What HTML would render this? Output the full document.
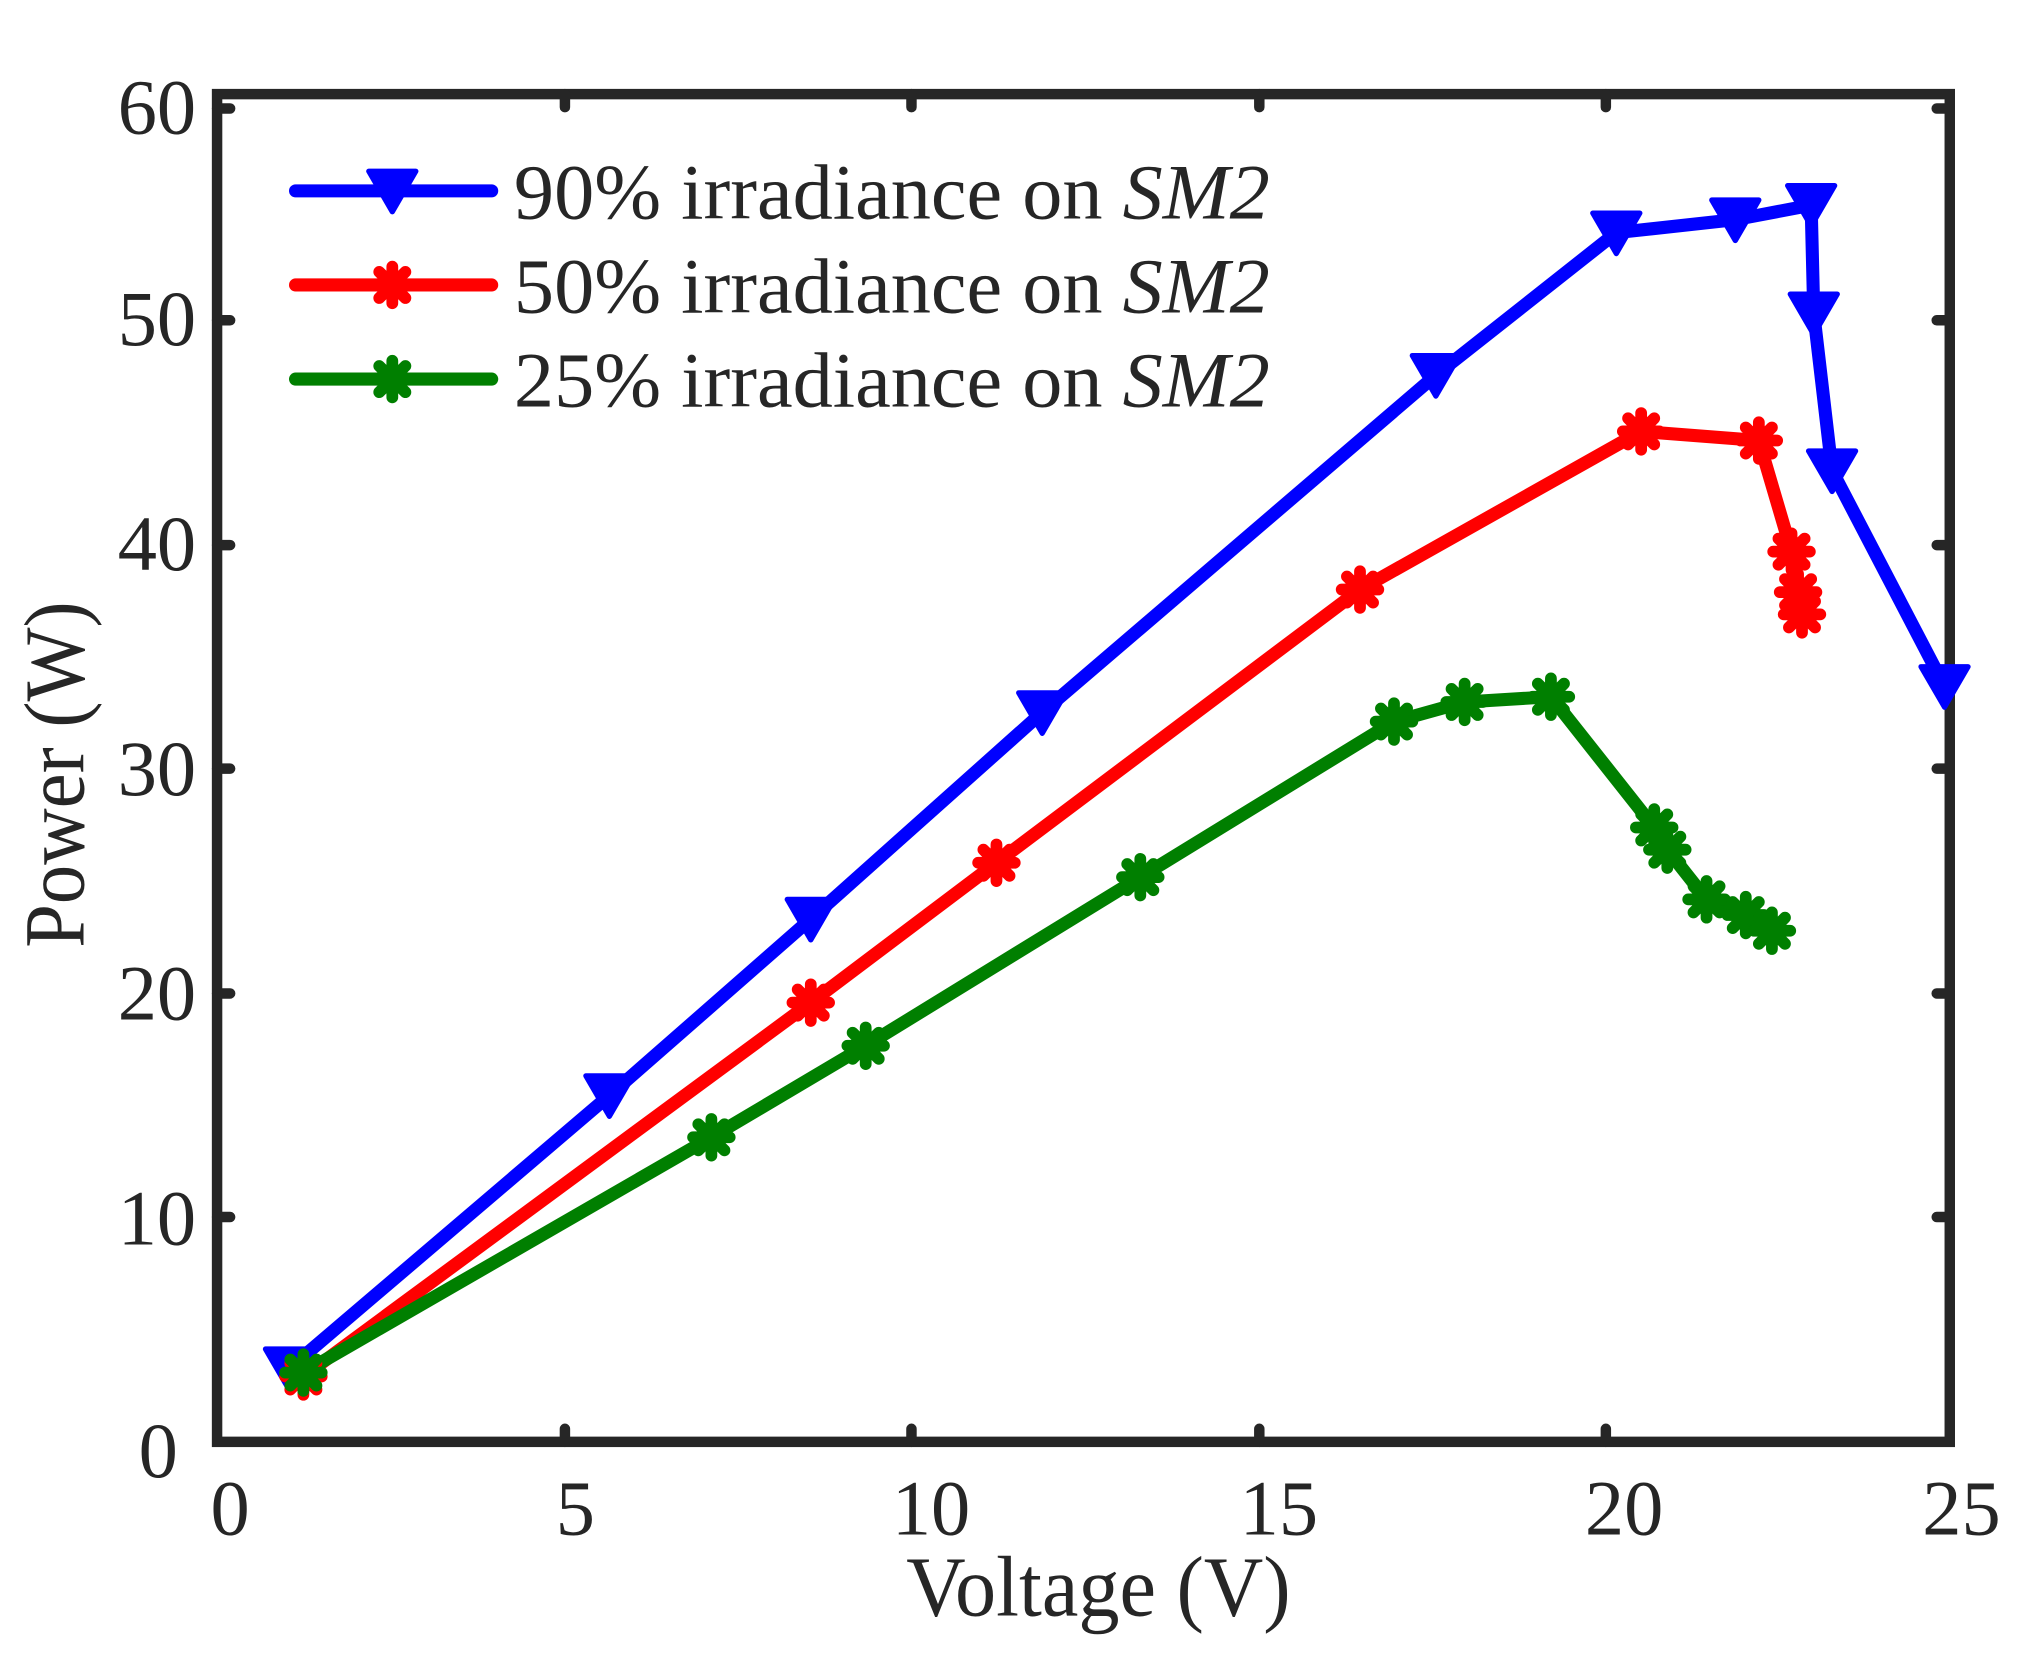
<!DOCTYPE html>
<html><head><meta charset="utf-8"><style>html,body{margin:0;padding:0;background:#fff}svg{display:block}</style></head><body>
<svg width="2040" height="1668" viewBox="0 0 1560 1276" preserveAspectRatio="none" xmlns="http://www.w3.org/2000/svg">
<defs>
<path id="tri" d="M-18,-15 L18,-15 L0,16 Z" stroke-linejoin="round"/>
<g id="st"><path d="M-14,0H14M0,-14V14M-10,-10L10,10M-10,10L10,-10" stroke-width="9" stroke-linecap="round"/></g>
</defs>
<rect x="166" y="72" width="1325" height="1031" fill="none" stroke="#262626" stroke-width="8"/>
<g stroke="#262626" stroke-width="8" stroke-linecap="round">
<path d="M432,1103v-10M697,1103v-10M963,1103v-10M1228,1103v-10M432,72v10M697,72v10M963,72v10M1228,72v10"/>
<path d="M166,931h10M166,760h10M166,588h10M166,417h10M166,245h10M166,83h10M1491,931h-10M1491,760h-10M1491,588h-10M1491,417h-10M1491,245h-10M1491,83h-10"/>
</g>
<g font-family="Liberation Serif, serif" font-size="60" fill="#262626">
<g text-anchor="middle"><text x="176" y="1174">0</text><text x="440" y="1174">5</text><text x="712" y="1174">10</text><text x="978" y="1174">15</text><text x="1242" y="1174">20</text><text x="1500" y="1174">25</text></g>
<g text-anchor="end"><text x="136" y="1130">0</text><text x="150" y="952">10</text><text x="150" y="780">20</text><text x="150" y="608">30</text><text x="150" y="436">40</text><text x="150" y="264">50</text><text x="150" y="102">60</text></g>
<text x="693" y="1236" font-size="66" textLength="294" lengthAdjust="spacingAndGlyphs">Voltage (V)</text>
<text transform="translate(64,725) rotate(-90)" font-size="66" textLength="265" lengthAdjust="spacingAndGlyphs">Power (W)</text>
<text x="393" y="167" textLength="578" lengthAdjust="spacingAndGlyphs">90% irradiance on <tspan font-style="italic">SM2</tspan></text>
<text x="393" y="239" textLength="578" lengthAdjust="spacingAndGlyphs">50% irradiance on <tspan font-style="italic">SM2</tspan></text>
<text x="393" y="311" textLength="578" lengthAdjust="spacingAndGlyphs">25% irradiance on <tspan font-style="italic">SM2</tspan></text>
</g>
<g fill="none" stroke-width="10" stroke-linejoin="round" stroke-linecap="round">
<polyline stroke="#0000ff" points="221,1047 466,838 620,703 797,545 1098,287 1236,178 1327,168 1385,157 1387,240 1401,360 1487,525"/>
<polyline stroke="#ff0000" points="232,1053 620,767 762,660 1040,451 1255,330 1345,337 1370,422 1375,453 1378,470"/>
<polyline stroke="#007f00" points="232,1050 544,870 662,800 872,671 1066,552 1120,537 1186,533 1265,633 1275,650 1305,688 1335,700 1355,712"/>
<line x1="226" y1="146" x2="376" y2="146" stroke="#0000ff"/>
<line x1="226" y1="218" x2="376" y2="218" stroke="#ff0000"/>
<line x1="226" y1="290" x2="376" y2="290" stroke="#007f00"/>
</g>
<g fill="#0000ff" stroke="#0000ff" stroke-width="4">
<use href="#tri" x="300" y="146"/><use href="#tri" x="221" y="1047"/><use href="#tri" x="466" y="838"/><use href="#tri" x="620" y="703"/><use href="#tri" x="797" y="545"/><use href="#tri" x="1098" y="287"/><use href="#tri" x="1236" y="178"/><use href="#tri" x="1327" y="168"/><use href="#tri" x="1385" y="157"/><use href="#tri" x="1387" y="240"/><use href="#tri" x="1401" y="360"/><use href="#tri" x="1487" y="525"/>
</g>
<g stroke="#ff0000">
<use href="#st" x="300" y="218"/><use href="#st" x="232" y="1053"/><use href="#st" x="620" y="767"/><use href="#st" x="762" y="660"/><use href="#st" x="1040" y="451"/><use href="#st" x="1255" y="330"/><use href="#st" x="1345" y="337"/><use href="#st" x="1370" y="422"/><use href="#st" x="1375" y="453"/><use href="#st" x="1378" y="470"/>
</g>
<g stroke="#007f00">
<use href="#st" x="300" y="290"/><use href="#st" x="232" y="1050"/><use href="#st" x="544" y="870"/><use href="#st" x="662" y="800"/><use href="#st" x="872" y="671"/><use href="#st" x="1066" y="552"/><use href="#st" x="1120" y="537"/><use href="#st" x="1186" y="533"/><use href="#st" x="1265" y="633"/><use href="#st" x="1275" y="650"/><use href="#st" x="1305" y="688"/><use href="#st" x="1335" y="700"/><use href="#st" x="1355" y="712"/>
</g>
</svg>
</body></html>
